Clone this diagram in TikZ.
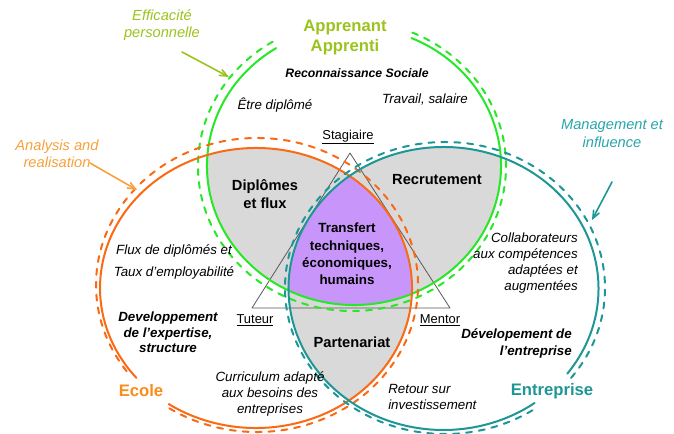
\documentclass[tikz,border=0pt]{standalone}
\usepackage{fontspec}
\setmainfont{Liberation Sans}
\usepackage{tikz}
\usetikzlibrary{arrows}
\definecolor{vertcercle}{RGB}{40,230,40}
\definecolor{orangecercle}{RGB}{250,105,20}
\definecolor{bleuvert}{RGB}{30,150,150}
\definecolor{bleuclair}{RGB}{40,165,170}
\definecolor{vertolive}{RGB}{155,195,30}
\definecolor{orangeclair}{RGB}{248,160,60}
\definecolor{orangetexte}{RGB}{250,140,25}
\definecolor{grisfond}{RGB}{217,217,217}
\definecolor{mauve}{RGB}{200,150,250}
\tikzset{
  cercle/.style={line width=1.5pt},
  tirets/.style={line width=1.5pt,dash pattern=on 4.5pt off 5.2pt},
  italique/.style={font=\fontsize{10}{12}\selectfont\itshape,align=center,inner sep=0pt},
  grasital/.style={font=\fontsize{10}{11.6}\selectfont\bfseries\itshape,align=center,inner sep=0pt},
  gras/.style={font=\fontsize{11}{13.5}\selectfont\bfseries,align=center,inner sep=0pt},
  role/.style={font=\fontsize{11}{12.8}\selectfont\itshape,align=center,inner sep=0pt},
  nom/.style={font=\fontsize{12.5}{15}\selectfont\bfseries,align=center,inner sep=0pt},
  sommet/.style={font=\fontsize{9.7}{12}\selectfont,inner sep=0pt},
  fleche/.style={->,line width=1.2pt}
}
\begin{document}
\begin{tikzpicture}[line cap=round,line join=round,>=angle 45,x=0.75pt,y=0.75pt]
        \useasboundingbox (0,0) rectangle (674,-434);
        \begin{scope}
            \clip (354,-166) ellipse [x radius=147,y radius=139];
            \fill[grisfond] (256,-288) ellipse [x radius=156,y radius=140];
            \fill[grisfond] (443.5,-288.5) ellipse [x radius=155,y radius=141.5];
        \end{scope}
        \begin{scope}
            \clip (256,-288) ellipse [x radius=156,y radius=140];
            \fill[grisfond] (443.5,-288.5) ellipse [x radius=155,y radius=141.5];
        \end{scope}
        \begin{scope}
            \clip (354,-166) ellipse [x radius=147,y radius=139];
            \clip (256,-288) ellipse [x radius=156,y radius=140];
            \fill[mauve] (443.5,-288.5) ellipse [x radius=155,y radius=141.5];
        \end{scope}
        \draw [gray!70!black,line width=0.6pt] (350,-153) -- (252,-308) -- (450,-308) -- cycle;
        \draw [cercle,vertcercle] (354,-166) ++(122:147 and 139) arc [start angle=122,end angle=427,x radius=147,y radius=139];
        \draw [tirets,vertcercle] (352,-166) ++(121:154 and 145) arc [start angle=121,end angle=427,x radius=154,y radius=145];
        \draw [cercle,orangecercle] (256,-288) ++(236:156 and 140) arc [start angle=236,end angle=580,x radius=156,y radius=140];
        \draw [tirets,orangecercle] (257,-285) ++(237:161 and 147) arc [start angle=237,end angle=578,x radius=161,y radius=147];
        \draw [cercle,bleuvert] (443.5,-288.5) ++(323:155 and 141.5) arc [start angle=323,end angle=666,x radius=155,y radius=141.5];
        \draw [tirets,bleuvert] (445,-288) ++(322:160 and 146) arc [start angle=322,end angle=665,x radius=160,y radius=146];
        \node[nom,vertolive] (apprenant) at (345,-38) {Apprenant\\Apprenti};
        \node[grasital,font=\fontsize{9.2}{11}\selectfont\bfseries\itshape] (reconnaissance) at (357,-73) {Reconnaissance Sociale};
        \node[italique] (etre) at (275,-105) {Être diplômé};
        \node[italique] (travail) at (425,-100) {Travail, salaire};
        \node[gras] (diplomes) at (265,-194) {Diplômes\\et flux};
        \node[gras] (recrutement) at (437,-180) {Recrutement};
        \node[gras,font=\fontsize{10}{13}\selectfont\bfseries] (transfert) at (347,-254) {Transfert\\techniques,\\économiques,\\humains};
        \node[italique] (flux) at (174,-262) {Flux de diplômés et\\[4.5pt]Taux d’employabilité};
        \node[grasital] (developpement) at (168,-332.5) {Developpement\\de l’expertise,\\structure};
        \node[gras] (partenariat) at (352,-342) {Partenariat};
        \node[italique] (curriculum) at (270,-394) {Curriculum adapté\\aux besoins des\\entreprises};
        \node[italique,anchor=west,align=left] (retour) at (388,-397) {Retour sur\\investissement};
        \node[italique,anchor=east,align=right] (collaborateurs) at (578,-263) {Collaborateurs\\aux compétences\\adaptées et\\augmentées};
        \node[grasital,font=\fontsize{10}{12.8}\selectfont\bfseries\itshape,anchor=east,align=right] (developpemententreprise) at (572,-343.5) {Dévelopement de\\l’entreprise};
        \node[sommet] (stagiaire) at (348,-137) {\underline{Stagiaire}};
        \node[sommet] (tuteur) at (255,-320) {\underline{Tuteur}};
        \node[sommet] (mentor) at (440,-320) {\underline{Mentor}};
        \node[nom,orangetexte] (ecole) at (141,-391) {Ecole};
        \node[nom,bleuvert] (entreprise) at (552,-391) {Entreprise};
        \node[role,vertolive] (efficacite) at (162,-25) {Efficacité\\personnelle};
        \node[role,orangeclair] (analysis) at (57,-154) {Analysis and\\realisation};
        \node[role,bleuclair] (management) at (612,-133.5) {Management et\\influence};
        \coordinate (efficacitedepart) at (182,-52);
        \coordinate (efficacitepointe) at (229,-77);
        \coordinate (analysisdepart) at (90,-163);
        \coordinate (analysispointe) at (137,-190);
        \coordinate (managementdepart) at (612,-182);
        \coordinate (managementpointe) at (592,-220);
        \draw [fleche,vertolive] (efficacitedepart) -- (efficacitepointe);
        \draw [fleche,orangeclair] (analysisdepart) -- (analysispointe);
        \draw [fleche,bleuvert] (managementdepart) -- (managementpointe);
\end{tikzpicture}
\end{document}
